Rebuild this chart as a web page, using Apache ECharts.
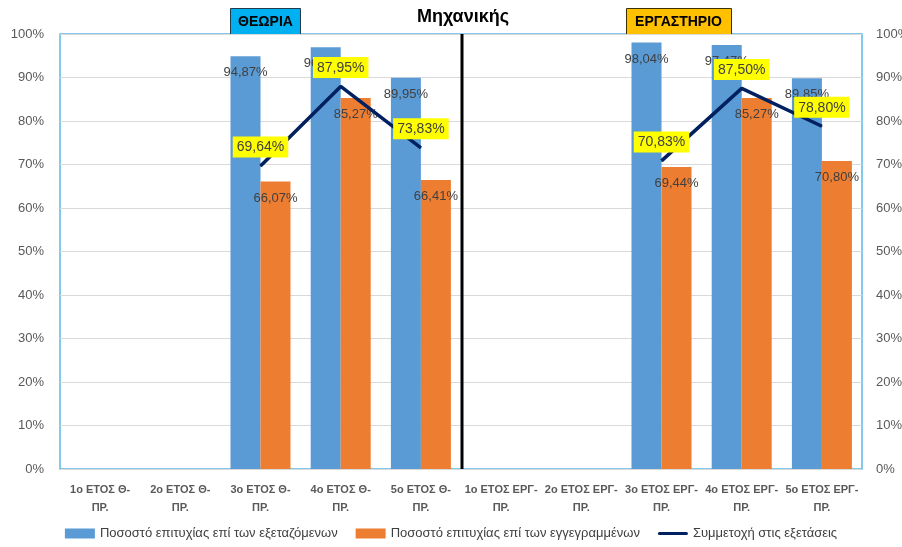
<!DOCTYPE html>
<html>
<head>
<meta charset="utf-8">
<script src="https://cdn.jsdelivr.net/npm/echarts@6/dist/echarts.min.js"></script>
<style>
  html, body { margin: 0; padding: 0; background: #fff; }
  #main { width: 902px; height: 547px; }
</style>
</head>
<body>
<div id="main"></div>
<script>
  var categories = [
    '1ο ΕΤΟΣ Θ-\nΠΡ.', '2ο ΕΤΟΣ Θ-\nΠΡ.', '3ο ΕΤΟΣ Θ-\nΠΡ.', '4ο ΕΤΟΣ Θ-\nΠΡ.', '5ο ΕΤΟΣ Θ-\nΠΡ.',
    '1ο ΕΤΟΣ ΕΡΓ-\nΠΡ.', '2ο ΕΤΟΣ ΕΡΓ-\nΠΡ.', '3ο ΕΤΟΣ ΕΡΓ-\nΠΡ.', '4ο ΕΤΟΣ ΕΡΓ-\nΠΡ.', '5ο ΕΤΟΣ ΕΡΓ-\nΠΡ.'
  ];
  // ποσοστά (%)
  var examined = [null, null, 94.87, 96.97, 89.95, null, null, 98.04, 97.47, 89.85];
  var enrolled = [null, null, 66.07, 85.27, 66.41, null, null, 69.44, 85.27, 70.80];
  var participation = [null, null, 69.64, 87.95, 73.83, null, null, 70.83, 87.50, 78.80];
  var seriesNames = [
    'Ποσοστό επιτυχίας επί των εξεταζόμενων',
    'Ποσοστό επιτυχίας επί των εγγεγραμμένων',
    'Συμμετοχή στις εξετάσεις'
  ];

  var font = 'Liberation Sans, sans-serif';
  var gridL = 60, gridR = 40, gridT = 34, gridB = 78;
  var W = 902, H = 547;
  var midX = gridL + (W - gridL - gridR) / 2;

  function pct(p) {
    return p.value == null ? '' : p.value.toFixed(2).replace('.', ',') + '%';
  }

  var barLabel = {
    show: true,
    position: 'insideTop',
    distance: 10,
    color: '#404040',
    fontSize: 13,
    fontFamily: font,
    formatter: pct
  };

  var myChart = echarts.init(document.getElementById('main'));
  myChart.setOption({
    animation: false,
    textStyle: { fontFamily: font },
    grid: {
      left: gridL, right: gridR, top: gridT, bottom: gridB,
      outerBoundsMode: 'none',
      show: true, borderColor: '#5bb8e6', borderWidth: 1.5, backgroundColor: '#fff'
    },
    legend: {
      bottom: 2,
      left: 'center',
      itemGap: 18,
      itemWidth: 30,
      itemHeight: 10,
      textStyle: { color: '#404040', fontSize: 13, fontFamily: font },
      data: [
        { name: seriesNames[0], icon: 'rect' },
        { name: seriesNames[1], icon: 'rect' },
        { name: seriesNames[2], icon: 'path://M2,0 L38,0 A2,2 0 0 1 38,4 L2,4 A2,2 0 0 1 2,0 Z' }
      ]
    },
    xAxis: {
      type: 'category',
      data: categories,
      axisLine: { show: false },
      axisTick: { show: false },
      axisLabel: {
        interval: 0,
        color: '#595959',
        fontWeight: 'bold',
        fontSize: 11,
        lineHeight: 18,
        margin: 12,
        fontFamily: font
      }
    },
    yAxis: [
      {
        type: 'value', min: 0, max: 100, interval: 10,
        axisLabel: { formatter: '{value}%', color: '#595959', fontSize: 13, margin: 16 },
        splitLine: { lineStyle: { color: '#d9d9d9' } },
        axisLine: { show: false }, axisTick: { show: false }
      },
      {
        type: 'value', min: 0, max: 100, interval: 10, position: 'right',
        axisLabel: { formatter: '{value}%', color: '#595959', fontSize: 13, margin: 14 },
        splitLine: { show: false },
        axisLine: { show: false }, axisTick: { show: false }
      }
    ],
    series: [
      {
        name: seriesNames[0],
        type: 'bar',
        barWidth: 30,
        barGap: '0%',
        itemStyle: { color: '#5b9bd5' },
        label: barLabel,
        data: examined
      },
      {
        name: seriesNames[1],
        type: 'bar',
        barWidth: 30,
        itemStyle: { color: '#ed7d31' },
        label: barLabel,
        data: enrolled
      },
      {
        name: seriesNames[2],
        type: 'line',
        z: 5,
        symbol: 'circle',
        symbolSize: 1,
        showSymbol: true,
        lineStyle: { color: '#002060', width: 3.5 },
        itemStyle: { color: '#002060' },
        label: {
          show: true,
          position: 'top',
          distance: 8,
          color: '#404040',
          fontSize: 14,
          fontFamily: font,
          backgroundColor: '#ffff00',
          padding: [4, 4, 3, 4],
          formatter: pct
        },
        data: participation
      }
    ],
    graphic: [
      {
        type: 'line', z: 10,
        shape: { x1: midX + 1, y1: gridT, x2: midX + 1, y2: H - gridB },
        style: { stroke: '#000', lineWidth: 3 }
      },
      {
        type: 'text', z: 10, x: 463, y: 8,
        style: { text: 'Μηχανικής', align: 'center', fill: '#000', font: 'bold 18px ' + font }
      },
      {
        type: 'group', left: 230, top: 8, z: 10,
        children: [
          { type: 'rect', shape: { x: 0, y: 0, width: 70, height: 26 },
            style: { fill: '#00b0f0', stroke: '#1f3b4d', lineWidth: 1 } },
          { type: 'text', style: { x: 35, y: 14, text: 'ΘΕΩΡΙΑ', align: 'center', verticalAlign: 'middle',
            fill: '#000', font: 'bold 14px ' + font } }
        ]
      },
      {
        type: 'group', left: 626, top: 8, z: 10,
        children: [
          { type: 'rect', shape: { x: 0, y: 0, width: 105, height: 26 },
            style: { fill: '#ffc000', stroke: '#3d3000', lineWidth: 1 } },
          { type: 'text', style: { x: 52, y: 14, text: 'ΕΡΓΑΣΤΗΡΙΟ', align: 'center', verticalAlign: 'middle',
            fill: '#000', font: 'bold 14px ' + font } }
        ]
      }
    ]
  });
</script>
</body>
</html>
